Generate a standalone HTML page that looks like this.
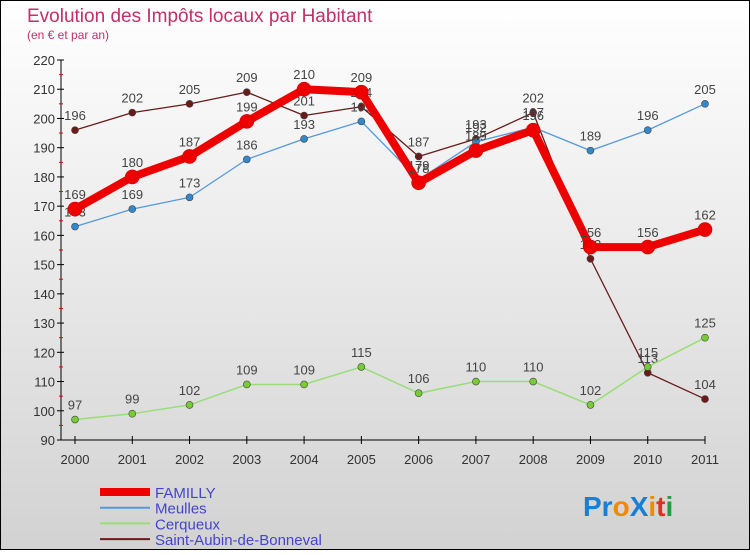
<!DOCTYPE html>
<html><head><meta charset="utf-8"><style>
html,body{margin:0;padding:0}
body{width:750px;height:550px;overflow:hidden;font-family:"Liberation Sans",sans-serif}
</style></head><body>
<svg id="chart" width="750" height="550" xmlns="http://www.w3.org/2000/svg" font-family="Liberation Sans, sans-serif">
<defs><linearGradient id="bg" x1="0" y1="0" x2="0" y2="1"><stop offset="0" stop-color="#ffffff"/><stop offset="1" stop-color="#d2d2d2"/></linearGradient></defs>
<rect x="0.5" y="0.5" width="749" height="549" fill="url(#bg)" stroke="#000"/>
<text x="27" y="22" font-size="19" fill="#c0306a">Evolution des Impôts locaux par Habitant</text>
<text x="27" y="39" font-size="12" fill="#c0306a">(en € et par an)</text>
<g id="axes"></g><g id="series"></g><g id="legend"></g>
<g font-size="28" font-weight="bold">
<text x="583" y="516"><tspan fill="#1a7fd4">Pr</tspan><tspan fill="#f08a00">o</tspan><tspan fill="#1a7fd4">X</tspan><tspan fill="#f08a00">i</tspan><tspan fill="#e03020">t</tspan><tspan fill="#2a9a40">i</tspan></text>
</g>
</svg>
<script>
const years=["2000","2001","2002","2003","2004","2005","2006","2007","2008","2009","2010","2011"];
const yTicks=[90,100,110,120,130,140,150,160,170,180,190,200,210,220];
const familly=[169,180,187,199,210,209,178,189,196,156,156,162];
const meulles=[163,169,173,186,193,199,179,192,197,189,196,205];
const cerqueux=[97,99,102,109,109,115,106,110,110,102,115,125];
const saintAubin=[196,202,205,209,201,204,187,193,202,152,113,104];
const NS="http://www.w3.org/2000/svg";
const X=i=>75+i*(630/11);
const Y=v=>60+(220-v)*(380/130);
function mk(tag,attrs,parent){const e=document.createElementNS(NS,tag);for(const k in attrs)e.setAttribute(k,attrs[k]);parent.appendChild(e);return e;}
const ax=document.getElementById('axes');
let yl=mk('line',{x1:61,y1:60,x2:61,y2:440,stroke:'#000'},ax);


let xl=mk('line',{x1:61,y1:440,x2:705,y2:440,stroke:'#000'},ax);


yTicks.forEach((v,i)=>{
 mk('line',{x1:57,y1:Y(v),x2:64,y2:Y(v),stroke:'#000'},ax);
 if(i<yTicks.length-1) mk('line',{x1:59,y1:Y(v+5),x2:63,y2:Y(v+5),stroke:'#e00000'},ax);
 const t=mk('text',{x:55,y:Y(v)+5,'font-size':13,fill:'#333','text-anchor':'end'},ax);
 t.textContent=v;
 
 
});
years.forEach((y,i)=>{
 mk('line',{x1:X(i),y1:436,x2:X(i),y2:444,stroke:'#000'},ax);
 const t=mk('text',{x:X(i),y:464,'font-size':13,fill:'#333','text-anchor':'middle'},ax);
 t.textContent=y;
 
 
});
const series=[
 {name:'saint-aubin',label:'Saint-Aubin-de-Bonneval',data:saintAubin,color:'#6b1a1a',w:1.3,r:3.5},
 {name:'cerqueux',label:'Cerqueux',data:cerqueux,color:'#99dd77',w:1.5,r:3.5,fill:'#77cc33'},
 {name:'meulles',label:'Meulles',data:meulles,color:'#5599dd',w:1.3,r:3.5,fill:'#3388cc'},
 {name:'familly',label:'FAMILLY',data:familly,color:'#ee0000',w:8,r:7}
];
const sg=document.getElementById('series');
series.forEach(s=>{
 const g=mk('g',{},sg);
 
 
 const pl=mk('polyline',{points:s.data.map((v,i)=>X(i)+','+Y(v)).join(' '),fill:'none',stroke:s.color,'stroke-width':s.w,'stroke-linejoin':'round'},g);
 
 
 s.data.forEach((v,i)=>{
  const c=mk('circle',{cx:X(i),cy:Y(v),r:s.r,fill:s.fill||s.color,stroke:s.color==='#ee0000'?'#cc0000':'#444','stroke-width':0.6},g);
  
  
  const t=mk('text',{x:X(i),y:Y(v)-10,'font-size':13,fill:'#444','text-anchor':'middle'},g);
  t.textContent=v;
  
  
 });
});
const lg=document.getElementById('legend');
const order=[series[3],series[2],series[1],series[0]];
order.forEach((s,i)=>{
 const y=492+i*15.7;
 const g=mk('g',{},lg);
 
 
 mk('line',{x1:100,y1:y,x2:150,y2:y,stroke:s.color,'stroke-width':s.name==='familly'?8:2},g);
 const t=mk('text',{x:155,y:y+6,'font-size':15,fill:'#4444cc'},g);
 t.textContent=s.label;
});
</script>
</body></html>
